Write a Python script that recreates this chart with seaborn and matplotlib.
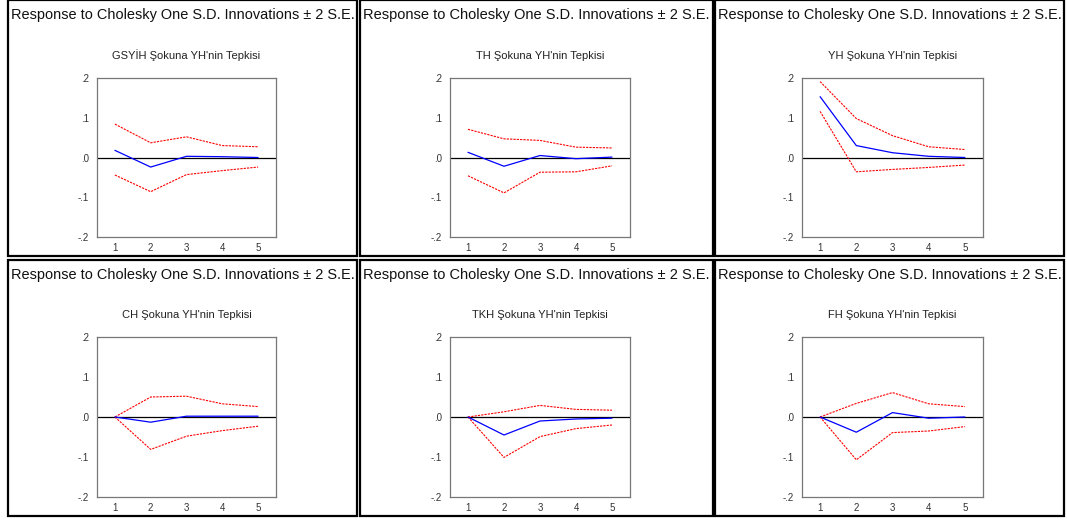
"""Impulse responses of YH to Cholesky shocks, 2x3 panel layout."""

import matplotlib
import matplotlib.pyplot as plt
import numpy as np
import seaborn as sns
from matplotlib.patches import Rectangle

matplotlib.use("Agg")

periods = [1, 2, 3, 4, 5]
main_title = "Response to Cholesky One S.D. Innovations \u00b1 2 S.E."
shock_names = ["GSY\u0130H", "TH", "YH", "CH", "TKH", "FH"]

gsyih_resp = [0.018, -0.024, 0.003, 0.002, 0.000]
gsyih_upper = [0.084, 0.037, 0.052, 0.030, 0.027]
gsyih_lower = [-0.044, -0.086, -0.043, -0.033, -0.024]

th_resp = [0.013, -0.022, 0.005, -0.003, 0.001]
th_upper = [0.071, 0.047, 0.043, 0.026, 0.024]
th_lower = [-0.046, -0.089, -0.037, -0.036, -0.021]

yh_resp = [0.153, 0.030, 0.012, 0.003, 0.000]
yh_upper = [0.191, 0.098, 0.055, 0.027, 0.020]
yh_lower = [0.116, -0.036, -0.030, -0.025, -0.019]

ch_resp = [0.000, -0.013, 0.002, 0.002, 0.002]
ch_upper = [0.000, 0.050, 0.052, 0.033, 0.026]
ch_lower = [0.000, -0.081, -0.048, -0.034, -0.023]

tkh_resp = [0.000, -0.045, -0.010, -0.005, -0.003]
tkh_upper = [0.000, 0.013, 0.029, 0.019, 0.017]
tkh_lower = [0.000, -0.101, -0.049, -0.029, -0.020]

fh_resp = [0.000, -0.038, 0.011, -0.003, 0.000]
fh_upper = [0.000, 0.034, 0.061, 0.033, 0.026]
fh_lower = [0.000, -0.107, -0.039, -0.035, -0.024]

y_ticks = [-0.2, -0.1, 0.0, 0.1, 0.2]
y_tick_labels = ["-.2", "-.1", ".0", ".1", ".2"]

panels = [
    (gsyih_resp, gsyih_upper, gsyih_lower),
    (th_resp, th_upper, th_lower),
    (yh_resp, yh_upper, yh_lower),
    (ch_resp, ch_upper, ch_lower),
    (tkh_resp, tkh_upper, tkh_lower),
    (fh_resp, fh_upper, fh_lower),
]

sns.set_theme(style="white")
plt.rcParams["font.family"] = ["Liberation Sans Narrow", "Liberation Sans", "DejaVu Sans"]

W, H = 1067, 522
fig = plt.figure(figsize=(W / 100, H / 100), dpi=100)
renderer = fig.canvas.get_renderer()

# panel frames (pixel coords: left, top, right, bottom)
frames = [
    (8, 0, 357, 256), (360, 0, 713, 256), (715, 0, 1064, 256),
    (8, 260, 357, 516), (360, 260, 713, 516), (715, 260, 1064, 516),
]
# plot areas (pixel coords)
plot_boxes = [
    (97, 78, 276, 237), (450, 78, 630, 237), (802, 78, 983, 237),
    (97, 337, 276, 497), (450, 337, 630, 497), (802, 337, 983, 497),
]

for i, ((resp, upper, lower), name) in enumerate(zip(panels, shock_names)):
    l, t, r, b = frames[i]
    fig.patches.append(Rectangle((l / W, 1 - b / H), (r - l) / W, (b - t) / H,
                                 transform=fig.transFigure, fill=False,
                                 edgecolor="black", linewidth=1.6))
    cx = (l + r) / 2
    title = fig.text(cx / W, 1 - (t + 15) / H, main_title, ha="center", va="center",
                     fontsize=14.5, color="#111111", fontstretch="condensed")
    # shrink the heading so it fits inside its frame, as in the reference
    width = title.get_window_extent(renderer).width
    target = (r - l) - 6
    if width > target:
        title.set_fontsize(14.5 * target / width)

    pl, pt, pr, pb = plot_boxes[i]
    ax = fig.add_axes([pl / W, 1 - pb / H, (pr - pl) / W, (pb - pt) / H])
    ax.set_title(f"{name} \u015eokuna YH'nin Tepkisi", fontsize=8,
                 color="#222222", pad=13.5)

    ax.axhline(0, color="black", linewidth=0.9, zorder=1)
    sns.lineplot(x=periods, y=upper, ax=ax, color="red", linewidth=0.8,
                 linestyle=(0, (2, 1)), zorder=2)
    sns.lineplot(x=periods, y=lower, ax=ax, color="red", linewidth=0.8,
                 linestyle=(0, (2, 1)), zorder=2)
    sns.lineplot(x=periods, y=resp, ax=ax, color="blue", linewidth=0.9, zorder=3)

    ax.set_xlim(0.5, 5.5)
    ax.set_ylim(-0.2, 0.2)
    ax.set_yticks(y_ticks)
    ax.set_yticklabels(y_tick_labels)
    ax.set_xticks(np.arange(0.5, 6.0, 1.0))
    ax.set_xticklabels([])
    ax.set_xticks(periods, minor=True)
    ax.set_xticklabels([str(p) for p in periods], minor=True)
    ax.tick_params(axis="x", which="minor", length=0, labelsize=7,
                   colors="#333333", pad=4)
    ax.tick_params(axis="x", which="major", length=5, width=0.8,
                   color="#555555", direction="out")
    ax.tick_params(axis="y", length=4, width=0.8, color="#555555",
                   direction="out", labelsize=7, labelcolor="#333333", pad=2)
    ax.set_xlabel("")
    ax.set_ylabel("")
    for spine in ax.spines.values():
        spine.set_color("#777777")
        spine.set_linewidth(0.9)
        spine.set_visible(True)

fig.savefig("out.png", dpi=100)
plt.close(fig)
